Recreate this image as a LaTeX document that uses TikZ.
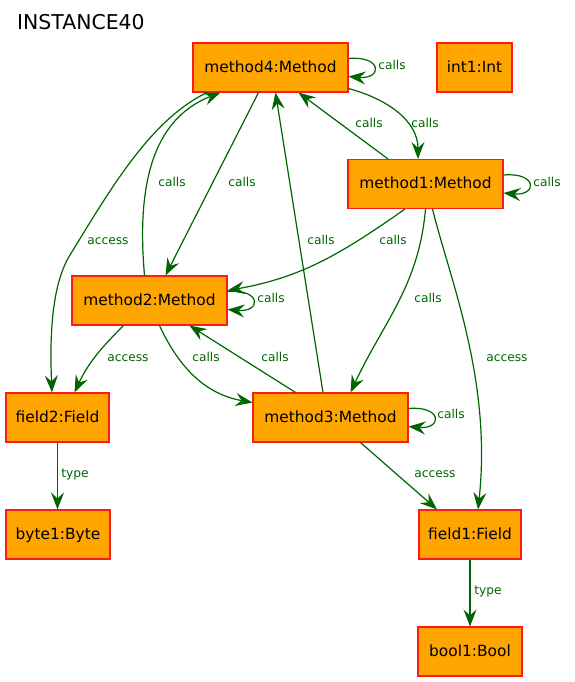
\documentclass[tikz,border=0pt]{standalone}
\usepackage{fontspec}
\setmainfont{DejaVu Sans}
\usetikzlibrary{arrows.meta,positioning}
\definecolor{objorange}{HTML}{FFA500}
\definecolor{objred}{HTML}{FF1A1A}
\definecolor{relgreen}{HTML}{006400}

\begin{document}
\begin{tikzpicture}[x=1pt,y=1pt,
  obj/.style={draw=objred, fill=objorange, line width=1.1pt, minimum height=49pt, inner sep=0pt,
    text height=12.5pt, text depth=3pt, font=\fontsize{15.4}{18}\selectfont},
  rel/.style={draw=relgreen, line width=1.2pt, -{Stealth[length=17pt,width=13pt,inset=6pt]}},
  lbl/.style={text=relgreen, inner sep=0pt, text height=9pt, text depth=2pt, font=\fontsize{12.2}{14}\selectfont}]
  \useasboundingbox (0,0) rectangle (574,-682);
  % ------------------------------------------------------------ title
  \node[anchor=west, inner sep=0pt, font=\fontsize{20.4}{24}\selectfont] (title) at (17,-22.5) {INSTANCE40};
  % ------------------------------------------------------------ objects
  \node[obj, minimum width=155pt] (m4) at (270.5,-67.5) {method4:Method};
  \node[obj, minimum width=75pt] (i1) at (474.5,-67.5) {int1:Int};
  \node[obj, minimum width=155pt] (m1) at (425.5,-184) {method1:Method};
  \node[obj, minimum width=155pt] (m2) at (149.5,-300.5) {method2:Method};
  \node[obj, minimum width=103pt] (f2) at (57.5,-417.5) {field2:Field};
  \node[obj, minimum width=155pt] (m3) at (330.5,-417.5) {method3:Method};
  \node[obj, minimum width=104pt] (b1) at (58,-534.5) {byte1:Byte};
  \node[obj, minimum width=102pt] (f1) at (470,-534.5) {field1:Field};
  \node[obj, minimum width=104pt] (bo1) at (470,-651.5) {bool1:Bool};
  % ------------------------------------------------------------ self calls
  \draw[rel] ([yshift=9pt]m4.east) .. controls +(34,3) and +(34,-3) .. ([yshift=-9pt]m4.east) node[lbl] (l1) at (392,-66) {calls};
  \draw[rel] ([yshift=9pt]m1.east) .. controls +(34,3) and +(34,-3) .. ([yshift=-9pt]m1.east) node[lbl] (l4) at (547,-183) {calls};
  \draw[rel] ([yshift=9pt]m2.east) .. controls +(34,3) and +(34,-3) .. ([yshift=-9pt]m2.east) node[lbl] (l12) at (271,-299) {calls};
  \draw[rel] ([yshift=9pt]m3.east) .. controls +(34,3) and +(34,-3) .. ([yshift=-9pt]m3.east) node[lbl] (l16) at (451,-415) {calls};
  % ------------------------------------------------------------ calls between methods
  \draw[rel] ([yshift=4pt]m4.south east) to[out=-15,in=90] ([xshift=-7.5pt]m1.north) node[lbl] (l2) at (425,-124) {calls};
  \draw[rel] ([xshift=-37.5pt]m1.north) -- ([xshift=28pt]m4.south) node[lbl] (l3) at (369,-124) {calls};
  \draw[rel] ([xshift=-12pt]m4.south) -- ([xshift=16pt]m2.north) node[lbl] (l5) at (242,-183) {calls};
  \draw[rel] ([xshift=-5pt]m2.north) .. controls (137,-190) and (150,-120) .. ([xshift=-50pt]m4.south) node[lbl] (l6) at (172,-183) {calls};
  \draw[rel] ([xshift=-20.5pt]m1.south) to[out=-145,in=10] ([yshift=10pt]m2.east) node[lbl] (l8) at (393,-241) {calls};
  \draw[rel] ([xshift=-7.5pt]m3.north) -- ([xshift=5pt]m4.south) node[lbl] (l9) at (321,-241) {calls};
  \draw[rel] (m1.south) to[out=-95,in=65] ([xshift=20pt]m3.north) node[lbl] (l10) at (428,-299) {calls};
  \draw[rel] ([xshift=10pt]m2.south) to[out=-65,in=170] ([yshift=15pt]m3.west) node[lbl] (l14) at (206,-358) {calls};
  \draw[rel] ([xshift=-35pt]m3.north) -- ([xshift=40pt]m2.south) node[lbl] (l15) at (275,-358) {calls};
  % ------------------------------------------------------------ field access
  \draw[rel] ([xshift=-63.5pt]m4.south) .. controls (150,-120) and (110,-190) .. (70,-255)
    .. controls (50,-287) and (50,-345) .. ([xshift=-5.5pt]f2.north) node[lbl] (l7) at (108,-241) {access};
  \draw[rel] ([xshift=7pt]m1.south) .. controls (450,-280) and (492,-380) .. ([xshift=8pt]f1.north) node[lbl] (l11) at (507,-358) {access};
  \draw[rel] ([xshift=-26pt]m2.south) to[out=-135,in=65] ([xshift=17pt]f2.north) node[lbl] (l13) at (128,-358) {access};
  \draw[rel] ([xshift=30pt]m3.south) -- ([xshift=-33pt]f1.north) node[lbl] (l17) at (435,-474) {access};
  % ------------------------------------------------------------ types
  \draw[rel] (f2.south) -- (b1.north -| f2.south) node[lbl] (l18) at (75,-474) {type};
  \draw[rel] (f1.south) -- (bo1.north) node[lbl] (l19) at (488,-591) {type};
\end{tikzpicture}
\end{document}
